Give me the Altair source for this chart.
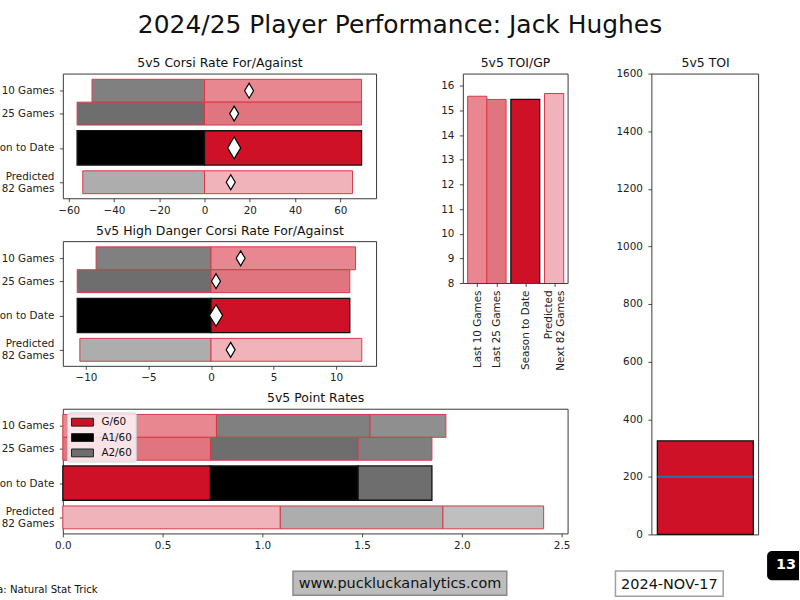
import altair as alt
import pandas as pd

# ---------------- data ----------------
categories = ["Last 10 Games", "Last 25 Games", "Season to Date", "Predicted\nNext 82 Games"]
cf60 = [69.4, 69.4, 69.4, 65.4]          # 5v5 Corsi for /60
ca60 = [49.7, 56.3, 56.3, 53.8]          # 5v5 Corsi against /60
hdcf60 = [11.56, 11.1, 11.1, 12.06]      # high danger CF/60
hdca60 = [9.19, 10.7, 10.7, 10.49]       # high danger CA/60
g60 = [0.77, 0.74, 0.74, 1.09]
a1_60 = [0.77, 0.74, 0.74, 0.815]
a2_60 = [0.38, 0.37, 0.37, 0.505]
toi_gp = [15.58, 15.45, 15.45, 15.69]
toi_total = [325]
toi_marker = [200]
point_labels = ["G/60", "A1/60", "A2/60"]

title_text = "2024/25 Player Performance: Jack Hughes"
panel_titles = ["5v5 Corsi Rate For/Against", "5v5 High Danger Corsi Rate For/Against",
                "5v5 Point Rates", "5v5 TOI/GP", "5v5 TOI"]
source_text = "Data: Natural Stat Trick"
site_text = "www.puckluckanalytics.com"
date_text = "2024-NOV-17"
badge_text = "13"

# ---------------- layout / style ----------------
FONT = "DejaVu Sans"
row_pos = [0, 1, 2.5, 4]
row_half = [0.5, 0.5, 0.75, 0.5]
for_colors = ["#e8878f", "#e07580", "#ce1126", "#f0b3b9"]
against_colors = ["#808080", "#6e6e6e", "#000000", "#adadad"]
a2_colors = ["#8f8f8f", "#7f7f7f", "#6e6e6e", "#bfbfbf"]
edge_colors = ["#d63a4a", "#d63a4a", "#111111", "#d63a4a"]
edge_widths = [1, 1, 1.3, 1]
diamond_sizes = [225, 225, 480, 225]
legend_colors = ["#ce1126", "#000000", "#6e6e6e"]
DIAMOND = "M0,-1L0.6,0L0,1L-0.6,0Z"
SWATCH = "M-1.4,-0.5L1.4,-0.5L1.4,0.5L-1.4,0.5Z"
OX, OY = 62, 72   # page position of the first panel's plot area
# page positions (centre x, baseline y) of the panel titles
panel_title_pos = [(219.5, 65.5), (219.5, 233.8), (315.4, 401.5), (515.8, 65.5), (706.4, 65.5)]
LINE_H = 12

ROW_SCALE = alt.Scale(domain=[-0.75, 4.7], reverse=True, nice=False, zero=False)


def label_expr():
    lits = []
    for c in categories:
        lines = c.split("\n")
        if len(lines) > 1:
            lits.append("[" + ", ".join("'" + s + "'" for s in lines) + "]")
        else:
            lits.append("'" + c + "'")
    expr = lits[-1]
    for p, lit in reversed(list(zip(row_pos[:-1], lits[:-1]))):
        expr = f"datum.value == {p} ? {lit} : ({expr})"
    return expr


LBL = label_expr()
# centre multi-line labels on their tick
multi = [p for p, c in zip(row_pos, categories) if "\n" in c]
MULTI_TEST = " || ".join(f"datum.value == {p}" for p in multi)
LBL_OFFSET = {"condition": {"test": MULTI_TEST, "value": -LINE_H / 2}, "value": 0}


def row_axis(**kw):
    return alt.Axis(values=row_pos, labelExpr=LBL, title=None, labelLineHeight=LINE_H,
                    labelOverlap=False, labelFlush=False, labelOffset=LBL_OFFSET, **kw)


def diverging_panel(pos_vals, neg_vals, xdomain, xticks):
    rows = []
    for i, cat in enumerate(categories):
        base = dict(cat=cat, y0=row_pos[i] - row_half[i], y1=row_pos[i] + row_half[i],
                    stroke=edge_colors[i], sw=edge_widths[i])
        rows.append({**base, "x0": -neg_vals[i], "x1": 0.0, "fill": against_colors[i]})
        rows.append({**base, "x0": 0.0, "x1": pos_vals[i], "fill": for_colors[i]})
    df = pd.DataFrame(rows)
    bars = alt.Chart(df).mark_rect().encode(
        x=alt.X("x0:Q", scale=alt.Scale(domain=xdomain, nice=False, zero=False),
                axis=alt.Axis(values=xticks, title=None, labelFlush=False, labelOverlap=False)),
        x2="x1:Q",
        y=alt.Y("y0:Q", scale=ROW_SCALE, axis=row_axis()),
        y2="y1:Q",
        fill=alt.Fill("fill:N", scale=None),
        stroke=alt.Stroke("stroke:N", scale=None),
        strokeWidth=alt.StrokeWidth("sw:Q", scale=None),
    )
    dd = pd.DataFrame({"pos": row_pos,
                       "net": [p - n for p, n in zip(pos_vals, neg_vals)],
                       "size": diamond_sizes})
    diamonds = alt.Chart(dd).mark_point(shape=DIAMOND, filled=True, fill="white", stroke="black",
                                        strokeWidth=1.2, opacity=1).encode(
        x="net:Q", y="pos:Q", size=alt.Size("size:Q", scale=None))
    return [bars, diamonds]


def txt(t, x, y, size, align="center", weight="normal", color="#111"):
    return alt.Chart(pd.DataFrame({"t": [t]})).mark_text(
        font=FONT, fontSize=size, align=align, baseline="alphabetic", fontWeight=weight, color=color
    ).encode(text="t:N", x=alt.value(x - OX), y=alt.value(y - OY))


def box(x0, x1, y0, y1, **kw):
    return alt.Chart(pd.DataFrame({"a": [0]})).mark_rect(**kw).encode(
        x=alt.value(x0 - OX), x2=alt.value(x1 - OX), y=alt.value(y0 - OY), y2=alt.value(y1 - OY))


# ---------------- page annotations (drawn in the first panel) ----------------
annotations = [
    box(-100, 800, 0, 600, opacity=0),  # page extent (keeps the layout fixed)
    txt(title_text, 400, 31.7, 25),
    txt(source_text, -22, 592.7, 10.2, align="left"),
    box(292.7, 507, 571, 595, fill="#bdbdbd", stroke="#8a8a8a", strokeWidth=1.5),
    txt(site_text, 400, 587.3, 14.5),
    box(616, 724, 570.7, 596, fill="white", stroke="#a0a0a0", strokeWidth=1.5),
    txt(date_text, 670, 588.3, 14.5),
    box(768, 800, 550.7, 580, fill="black", cornerRadiusTopLeft=5, cornerRadiusBottomLeft=5),
    txt(badge_text, 787, 568.5, 14.5, weight="bold", color="white"),
]
for t, (cx, by) in zip(panel_titles, panel_title_pos):
    annotations.append(txt(t, cx, by, 12.5))

# ---------------- panel 1: Corsi ----------------
p1 = alt.layer(
    *diverging_panel(cf60, ca60, [-62.6, 75.8], [-60, -40, -20, 0, 20, 40, 60]),
    *annotations,
).properties(width=314, height=125)

# ---------------- panel 2: high danger Corsi ----------------
p2 = alt.layer(
    *diverging_panel(hdcf60, hdca60, [-11.85, 13.2], [-10, -5, 0, 5, 10])
).properties(width=314, height=125)

# ---------------- panel 3: point rates ----------------
prow = []
for i, cat in enumerate(categories):
    segs = [(g60[i], for_colors[i]), (a1_60[i], against_colors[i]), (a2_60[i], a2_colors[i])]
    start = 0.0
    for v, c in segs:
        prow.append(dict(cat=cat, x0=start, x1=start + v, y0=row_pos[i] - row_half[i],
                         y1=row_pos[i] + row_half[i], fill=c, stroke=edge_colors[i], sw=edge_widths[i]))
        start += v
pdf = pd.DataFrame(prow)
pbars = alt.Chart(pdf).mark_rect().encode(
    x=alt.X("x0:Q", scale=alt.Scale(domain=[0, 2.53], nice=False, zero=False),
            axis=alt.Axis(values=[0, 0.5, 1.0, 1.5, 2.0, 2.5], format=".1f", title=None,
                          labelFlush=False, labelOverlap=False)),
    x2="x1:Q",
    y=alt.Y("y0:Q", scale=ROW_SCALE, axis=row_axis()),
    y2="y1:Q",
    fill=alt.Fill("fill:N", scale=None),
    stroke=alt.Stroke("stroke:N", scale=None),
    strokeWidth=alt.StrokeWidth("sw:Q", scale=None),
)
leg_df = pd.DataFrame({"label": point_labels, "color": legend_colors, "idx": list(range(len(point_labels)))})
leg_box = alt.Chart(pd.DataFrame({"a": [0]})).mark_rect(
    fill="white", fillOpacity=0.8, stroke="#cccccc", strokeWidth=1, cornerRadius=2
).encode(x=alt.value(4.7), x2=alt.value(73.7), y=alt.value(4.3), y2=alt.value(53.3))
leg_y = alt.Y("idx:Q", scale=alt.Scale(domain=[0, 2], range=[13.5, 44.3]), axis=None)
leg_sw = alt.Chart(leg_df).mark_point(shape=SWATCH, filled=True, size=247, stroke="#222",
                                      strokeWidth=1, opacity=1).encode(
    x=alt.value(19.7), y=leg_y, fill=alt.Fill("color:N", scale=None))
leg_tx = alt.Chart(leg_df).mark_text(font=FONT, fontSize=10.4, align="left", baseline="middle",
                                     color="#111").encode(x=alt.value(38.7), y=leg_y, text="label:N")
p3 = alt.layer(pbars, leg_box, leg_sw, leg_tx).resolve_scale(y="independent").properties(
    width=506, height=125)

# ---------------- panel 4: TOI/GP ----------------
df4 = pd.DataFrame({"cat": categories,
                    "x0": [p - h for p, h in zip(row_pos, row_half)],
                    "x1": [p + h for p, h in zip(row_pos, row_half)],
                    "v": toi_gp, "fill": for_colors, "stroke": edge_colors, "sw": edge_widths})
p4 = alt.Chart(df4).mark_rect(clip=True).encode(
    x=alt.X("x0:Q", scale=alt.Scale(domain=[-0.75, 4.7], nice=False, zero=False),
            axis=row_axis(labelAngle=-90)),
    x2="x1:Q",
    y=alt.Y("v:Q", scale=alt.Scale(domain=[8, 16.5], nice=False, zero=False),
            axis=alt.Axis(values=list(range(8, 17)), title=None, labelFlush=False, labelOverlap=False)),
    y2=alt.datum(0),
    fill=alt.Fill("fill:N", scale=None),
    stroke=alt.Stroke("stroke:N", scale=None),
    strokeWidth=alt.StrokeWidth("sw:Q", scale=None),
).properties(width=105, height=210)

# ---------------- panel 5: TOI ----------------
df5 = pd.DataFrame({"x0": [-0.4], "x1": [0.4], "toi": toi_total})
bar5 = alt.Chart(df5).mark_rect(fill="#ce1126", stroke="#111", strokeWidth=1.3).encode(
    x=alt.X("x0:Q", scale=alt.Scale(domain=[-0.45, 0.44], nice=False, zero=False), axis=None),
    x2="x1:Q",
    y=alt.Y("toi:Q", scale=alt.Scale(domain=[0, 1600], nice=False),
            axis=alt.Axis(values=list(range(0, 1601, 200)), format="d", title=None,
                          labelFlush=False, labelOverlap=False)),
    y2=alt.datum(0),
)
df5m = pd.DataFrame({"x0": [-0.4], "x1": [0.4], "m": toi_marker})
line5 = alt.Chart(df5m).mark_rule(color="#1f77b4", strokeWidth=2).encode(
    x="x0:Q", x2="x1:Q", y="m:Q")
p5 = alt.layer(bar5, line5).properties(width=107, height=462)

# ---------------- assemble ----------------
# with flush bounds a nested concat counts as zero-sized, so the spacing after it
# is the full offset of the next cell from the first panel's origin
vc12 = alt.vconcat(p1, p2, spacing=43, bounds="flush")
upper = alt.hconcat(vc12, p4, spacing=401, bounds="flush")
left = alt.vconcat(upper, p3, spacing=336, bounds="flush")
chart = alt.hconcat(left, p5, spacing=590, bounds="flush").properties(
    padding={"left": -100, "top": 0, "right": 0, "bottom": 0},
    background="white",
).configure_view(
    stroke="#3a3a3a", strokeWidth=1
).configure_axis(
    labelFont=FONT, labelFontSize=10.4, labelColor="#222", tickColor="#222",
    tickSize=3.5, tickWidth=0.8, labelPadding=3.5, domain=False, grid=False,
).configure_axisY(
    labelPadding=5.5
)

chart.save("out.html", embed_options={"renderer": "svg", "actions": False})
